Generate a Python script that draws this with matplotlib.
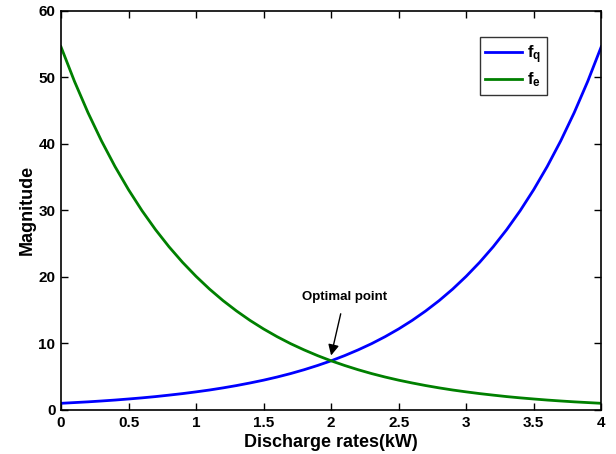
import matplotlib
matplotlib.use("Agg")
import matplotlib.pyplot as plt

plt.rcParams['font.family'] = ['Liberation Sans', 'DejaVu Sans']
plt.rcParams['font.weight'] = 'bold'
plt.rcParams['mathtext.fontset'] = 'custom'
plt.rcParams['mathtext.bf'] = 'Liberation Sans:bold'
plt.rcParams['mathtext.rm'] = 'Liberation Sans:bold'
plt.rcParams['mathtext.it'] = 'Liberation Sans:bold'

x = [0.0, 0.1, 0.2, 0.3, 0.4, 0.5, 0.6, 0.7, 0.8, 0.9, 1.0,
     1.1, 1.2, 1.3, 1.4, 1.5, 1.6, 1.7, 1.8, 1.9, 2.0,
     2.1, 2.2, 2.3, 2.4, 2.5, 2.6, 2.7, 2.8, 2.9, 3.0,
     3.1, 3.2, 3.3, 3.4, 3.5, 3.6, 3.7, 3.8, 3.9, 4.0]
f_q = [1.00, 1.11, 1.22, 1.35, 1.49, 1.65, 1.82, 2.01, 2.23, 2.46, 2.72,
       3.00, 3.32, 3.67, 4.06, 4.48, 4.95, 5.47, 6.05, 6.69, 7.39,
       8.17, 9.03, 9.97, 11.02, 12.18, 13.46, 14.88, 16.44, 18.17, 20.09,
       22.20, 24.53, 27.11, 29.96, 33.12, 36.60, 40.45, 44.70, 49.40, 54.60]
f_e = [54.60, 49.40, 44.70, 40.45, 36.60, 33.12, 29.96, 27.11, 24.53, 22.20, 20.09,
       18.17, 16.44, 14.88, 13.46, 12.18, 11.02, 9.97, 9.03, 8.17, 7.39,
       6.69, 6.05, 5.47, 4.95, 4.48, 4.06, 3.67, 3.32, 3.00, 2.72,
       2.46, 2.23, 2.01, 1.82, 1.65, 1.49, 1.35, 1.22, 1.11, 1.00]
x_ticks = [0, 0.5, 1, 1.5, 2, 2.5, 3, 3.5, 4]
x_tick_labels = ['0', '0.5', '1', '1.5', '2', '2.5', '3', '3.5', '4']
y_ticks = [0, 10, 20, 30, 40, 50, 60]
opt_x, opt_y = 2.0, 7.39

fig = plt.figure(figsize=(6.16, 4.54), dpi=100)
ax = fig.add_axes([0.099, 0.097, 0.877, 0.879])
ax.plot(x, f_q, color='#0000ff', lw=2, label=r'$\mathbf{f_q}$')
ax.plot(x, f_e, color='#008000', lw=2, label=r'$\mathbf{f_e}$')
ax.set_xlim(0, 4)
ax.set_ylim(0, 60)
ax.set_xticks(x_ticks)
ax.set_xticklabels(x_tick_labels)
ax.set_yticks(y_ticks)
ax.tick_params(direction='in', length=5, width=1, labelsize=11, top=True, right=True, pad=4)
for lab in ax.get_xticklabels() + ax.get_yticklabels():
    lab.set_fontweight('bold')
for s in ax.spines.values():
    s.set_linewidth(1.2)
ax.set_xlabel('Discharge rates(kW)', fontsize=13, fontweight='bold', labelpad=3)
ax.set_ylabel('Magnitude', fontsize=13, fontweight='bold', labelpad=2)

ax.annotate('Optimal point', xy=(opt_x, opt_y + 0.8), xytext=(2.1, 17.0),
            ha='center', va='center', fontsize=9.5, fontweight='bold',
            arrowprops=dict(arrowstyle='-|>', color='black', lw=1,
                            mutation_scale=16, shrinkA=6, shrinkB=0))

leg = ax.legend(loc='upper right', bbox_to_anchor=(0.888, 0.918),
                bbox_transform=fig.transFigure, fancybox=False,
                edgecolor='black', fontsize=12, handlelength=2.2,
                borderpad=0.35, labelspacing=0.3, handletextpad=0.3,
                borderaxespad=0)
leg.get_frame().set_linewidth(1)

fig.savefig('out.png', dpi=100)
